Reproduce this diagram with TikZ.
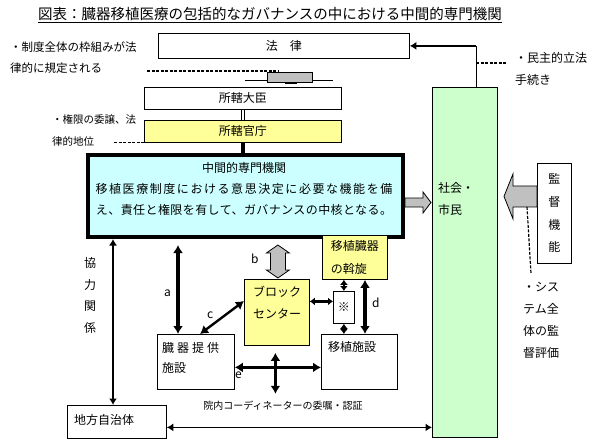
\documentclass[tikz,border=0pt]{standalone}
\usepackage{fontspec}
\newfontfamily\jpfont{Noto Sans CJK JP}
\usetikzlibrary{arrows.meta}

\definecolor{officeyellow}{HTML}{FFFF99}
\definecolor{corecyan}{HTML}{CCFFFF}
\definecolor{citizengreen}{HTML}{CCFFCC}
\definecolor{arrowgray}{HTML}{C0C0C0}

\tikzset{
  box/.style={draw, line width=0.8pt, anchor=north west, inner sep=0pt, font=\jpfont\fontsize{12}{22}\selectfont},
  txt/.style={anchor=west, inner sep=0pt, align=left, font=\jpfont\fontsize{12}{22}\selectfont},
  both/.style={line width=3.2pt, {Latex[length=8pt,width=10pt]}-{Latex[length=8pt,width=10pt]}},
  thinboth/.style={line width=1.8pt, {Latex[length=6.5pt,width=8pt]}-{Latex[length=6.5pt,width=8pt]}},
  shortboth/.style={line width=2.8pt, {Latex[length=5pt,width=8pt]}-{Latex[length=5pt,width=8pt]}},
  note/.style={dash pattern=on 3pt off 1.5pt, line width=1.2pt},
  blockarrow/.style={draw, line width=0.8pt, fill=arrowgray, line join=miter}
}

\begin{document}
\begin{tikzpicture}[x=1pt, y=-1pt]
    \useasboundingbox (0,0) rectangle (600,442);

    % Title
    \node[anchor=west, inner sep=0pt, font=\jpfont\fontsize{14.5}{16}\selectfont] (title) at (38,15)
        {\underline{図表：臓器移植医療の包括的なガバナンスの中における中間的専門機関}};

    % Law and administration
    \node[box, minimum width=251, minimum height=25] (law) at (158,33) {法　律};
    \node[box, minimum width=197, minimum height=22] (minister) at (144,87) {所轄大臣};
    \node[box, fill=officeyellow, minimum width=197, minimum height=22] (ministry) at (144,120) {所轄官庁};
    \node[txt, font=\jpfont\fontsize{11.5}{21}\selectfont] (lawnote) at (10,57.5) {・制度全体の枠組みが法\\律的に規定される};
    \node[txt, font=\jpfont\fontsize{10.5}{22}\selectfont] (ministrynote) at (52,130) {・権限の委譲、法\\律的地位};
    \draw[note] (147,71) -- (278,71);
    \draw[line width=0.8pt] (245,80) -- (333,80);
    \draw[blockarrow] (267,72) rectangle (312,82);
    \draw[line width=0.8pt] (285,83.5) -- (297,83.5);
    \draw[note] ([xshift=-30]ministry.south west) -- ([xshift=3]ministry.south west);
    \draw[line width=0.8pt, double distance=1.6pt] (minister.south) -- (ministry.north);

    % Intermediate expert body
    \node[box, line width=4pt, fill=corecyan, minimum width=315, minimum height=82] (core) at (86,153) {};
    \node[txt, anchor=center, align=center, font=\jpfont\fontsize{12}{21}\selectfont] (coretext) at (244,189)
        {中間的専門機関\\{\addfontfeature{LetterSpace=13}移植医療制度における意思決定に必要な機能を備}\\{\addfontfeature{LetterSpace=3.5}え、責任と権限を有して、ガバナンスの中核となる。}};
    \draw[line width=4pt] (ministry.south) -- (ministry.south |- core.north);

    % Society and oversight
    \node[box, fill=citizengreen, minimum width=65, minimum height=350] (society) at (432,87) {};
    \node[txt] (societytext) at (438,198.5) {社会・\\市民};
    \node[box, fill=white, minimum width=34, minimum height=100, align=center, font=\jpfont\fontsize{12}{22.7}\selectfont] (audit) at (537,163) {監\\督\\機\\能};
    \node[txt] (legisnote) at (515,69) {・民主的立法\\手続き};
    \node[txt] (auditnote) at (523,320) {・シス\\テム全\\体の監\\督評価};
    \coordinate (lawcorner) at ([xshift=44]society.north west |- law.east);
    \draw[line width=0.8pt] ([xshift=44]society.north west) -- (lawcorner);
    \draw[line width=2.6pt, -{Latex[length=6.5pt,width=8pt]}] (lawcorner) -- (law.east);
    \draw[note] ([yshift=-17]lawcorner) -- ++(31,0);
    \draw[blockarrow] (core.east) ++(0,2) -- ++(18,0) -- ++(0,-6) -- ++(8,10.5) -- ++(-8,10.5) -- ++(0,-6) -- ++(-18,0) -- cycle;
    \draw[blockarrow] (audit.west) ++(0,-27.5) -- ++(-24,0) -- ++(0,-12) -- ++(-9,22.5) -- ++(9,22.5) -- ++(0,-12) -- ++(24,0) -- cycle;
    \draw[note] ([xshift=-10, yshift=6.5]audit.west) -- ++(4,66.5);

    % Organisations below
    \node[box, fill=officeyellow, minimum width=65, minimum height=44, align=left, font=\jpfont\fontsize{12}{23}\selectfont] (alloc) at (322,235) {移植臓器\\の斡旋};
    \node[box, fill=officeyellow, minimum width=65, minimum height=66] (block) at (244,279) {};
    \node[txt] (blocktext) at (253,303) {ブロック\\センター};
    \node[box, fill=white, minimum width=21, minimum height=32, font=\jpfont\fontsize{12}{14}\selectfont] (star) at (333,291) {※};
    \node[box, minimum width=77, minimum height=55] (donor) at (157,334) {};
    \node[txt, font=\jpfont\fontsize{12}{20}\selectfont] (donortext) at (162,358) {{\addfontfeature{LetterSpace=25}臓器提供}\\施設};
    \node[box, minimum width=76, minimum height=55] (transplant) at (321,334) {};
    \node[txt] (transplanttext) at (328,347) {移植施設};
    \node[box, minimum width=99, minimum height=33] (local) at (67,405) {};
    \node[txt] (localtext) at (74,420) {地方自治体};
    \node[txt, align=center, font=\jpfont\fontsize{12}{21.7}\selectfont] (cooptext) at (84,295.5) {協\\力\\関\\係};
    \node[txt, anchor=center, font=\jpfont\fontsize{10}{12}\selectfont] (coordtext) at (283,406) {院内コーディネーターの委嘱・認証};

    % Connectors
    \draw[thinboth] ([xshift=46]local.north west) -- ([xshift=46]local.north west |- core.south);
    \draw[both, shorten >=6pt] ([xshift=21]donor.north west) -- ([xshift=21]donor.north west |- core.south);
    \draw[both, line width=2.4pt] ([xshift=43]donor.north west) -- ([yshift=-22]block.north west);
    \draw[both] ([yshift=-5.5]donor.east) -- ([yshift=-5.5]donor.east -| transplant.west);
    \draw[both] ([xshift=-1.5, yshift=-7]block.south) -- ++(0,41);
    \draw[blockarrow] (block.north) ++(1,-1) -- ++(-11.5,-8) -- ++(4,0) -- ++(0,-17) -- ++(-4,0) -- ++(11.5,-8)
        -- ++(11.5,8) -- ++(-4,0) -- ++(0,17) -- ++(4,0) -- cycle;
    \draw[shortboth] ([yshift=6]star.west) -- ([yshift=6]star.west -| block.east);
    \draw[shortboth] (star.north) -- (star.north |- alloc.south);
    \draw[shortboth] (star.south) -- (star.south |- transplant.north);
    \draw[both] ([xshift=43]alloc.south west) -- ([xshift=43]alloc.south west |- transplant.north);
    \draw[thinboth] ([yshift=-5.5]local.east) -- ([yshift=-5.5]local.east -| society.west);

    % Arrow labels
    \node[txt] (labela) at (164,293) {a};
    \node[txt] (labelb) at (251,259) {b};
    \node[txt] (labelc) at (207,315) {c};
    \node[txt] (labeld) at (372,303) {d};
    \node[txt] (labele) at (235,375) {e};
\end{tikzpicture}
\end{document}
